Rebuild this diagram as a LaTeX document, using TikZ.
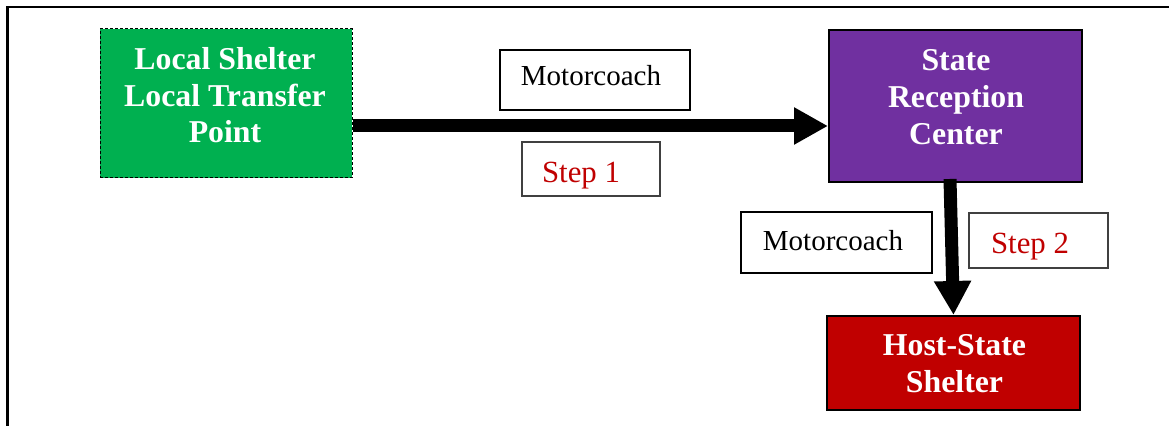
\documentclass[tikz,border=0pt]{standalone}
\usepackage{fontspec}
\setmainfont{Liberation Serif}
\usetikzlibrary{arrows.meta}

\definecolor{shelterGreen}{HTML}{00B050}
\definecolor{centerPurple}{HTML}{7030A0}
\definecolor{hostRed}{HTML}{C00000}
\definecolor{stepRed}{HTML}{C00000}
\definecolor{stepEdge}{HTML}{404040}

\tikzset{
  blockbox/.style={draw=black, line width=1pt, inner sep=0pt, rectangle},
  labelbox/.style={draw=black, line width=0.8pt, fill=white, inner sep=0pt, rectangle},
  stepbox/.style={draw=stepEdge, line width=0.6pt, fill=white, inner sep=0pt, rectangle},
  blocktext/.style={text=white, inner sep=0pt, align=center,
    font=\fontsize{15.9pt}{18.4pt}\selectfont\bfseries},
  modetext/.style={inner sep=0pt, anchor=base, font=\fontsize{14.5pt}{17pt}\selectfont},
  steptext/.style={inner sep=0pt, anchor=base, text=stepRed, font=\fontsize{15.4pt}{18pt}\selectfont},
  flow/.style={line width=6.5pt, -{Triangle[length=17pt,width=17.5pt]}},
}

\begin{document}
\begin{tikzpicture}[x=0.5pt, y=-0.5pt]
  \clip (0,0) rectangle (1169,426);
  \fill[white] (0,0) rectangle (1169,426);

  % surrounding frame (open to the right and bottom)
  \draw[line width=1.25pt] (7.5,1000) -- (7.5,7) -- (1500,7);

  % main blocks
  \node[blockbox, fill=shelterGreen, draw=black, line width=0.5pt,
        dash pattern=on 1.5pt off 1pt,
        minimum width=126pt, minimum height=74.5pt] (local) at (226,103.5) {};
  \node[blockbox, fill=centerPurple, minimum width=126.5pt, minimum height=76pt]
        (center) at (955.5,106) {};
  \node[blockbox, fill=hostRed, minimum width=126.5pt, minimum height=47pt]
        (host) at (953.5,363) {};

  \node[blocktext] (localtext) at (225,95.3) {Local Shelter\\Local Transfer\\Point};
  \node[blocktext] (centertext) at (956,97) {State\\Reception\\Center};
  \node[blocktext] (hosttext) at (954.5,364) {Host-State\\Shelter};

  % connectors
  \draw[flow] ([yshift=-11.25pt]local.east) -- ([yshift=-11.25pt]local.east -| center.west);
  \draw[flow] ([xshift=-2.75pt,yshift=2pt]center.south) -- (host.north);

  % transport and step labels
  \node[labelbox, minimum width=95pt, minimum height=30pt] (mode1) at (595,80) {};
  \node[modetext] (mode1text) at (591,86) {Motorcoach};
  \node[stepbox, minimum width=69pt, minimum height=27pt] (step1) at (591,169) {};
  \node[steptext] (step1text) at (581,183) {Step 1};

  \node[labelbox, minimum width=95.5pt, minimum height=30.5pt] (mode2) at (836.5,242.5) {};
  \node[modetext] (mode2text) at (833,251) {Motorcoach};
  \node[stepbox, minimum width=69.5pt, minimum height=27.5pt] (step2) at (1038.5,240.5) {};
  \node[steptext] (step2text) at (1030,254) {Step 2};
\end{tikzpicture}
\end{document}
